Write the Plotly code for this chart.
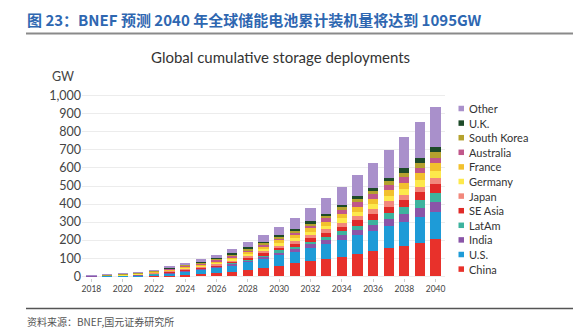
import plotly.graph_objects as go

years = list(range(2018, 2041))

china     = [0.2, 0.3, 0.5, 1, 2, 5, 9, 13, 18, 26, 35, 45, 57, 72, 85, 98, 109, 124, 139, 154, 169, 185, 204]
us        = [0.5, 1, 2, 3, 6, 11, 17, 22, 28, 36, 45, 52, 63, 62, 72, 80, 91, 104, 111, 124, 133, 145, 153]
india     = [0.5, 1, 1.5, 3, 4, 5, 5, 5, 6, 7, 9, 11, 13, 16, 19, 22, 26, 28, 33, 39, 42, 50, 52]
latam     = [0.1, 0.2, 0.3, 0.5, 1, 1, 2, 3, 4, 5, 6, 8, 10, 12, 15, 18, 24, 25, 30, 31, 37, 42, 50]
seasia    = [0.1, 0.2, 0.3, 0.5, 1, 2, 3, 4, 5, 6, 8, 10, 12, 15, 18, 23, 24, 28, 31, 37, 39, 43, 50]
japan     = [0.6, 1, 2, 3, 4, 5, 6, 7, 8, 9, 11, 13, 15, 17, 19, 20, 22, 22, 28, 32, 30, 31, 37]
germany   = [0.4, 0.8, 1.5, 2, 3, 4, 5, 6, 7, 8, 10, 12, 14, 16, 18, 19, 24, 26, 26, 27, 31, 37, 37]
france    = [0.4, 0.8, 1.5, 2, 3, 4, 5, 6, 7, 9, 11, 13, 15, 17, 19, 22, 23, 26, 30, 34, 37, 37, 43]
australia = [0.3, 0.6, 1, 1.5, 2, 3, 5, 6, 7, 8, 9, 10, 12, 14, 15, 18, 24, 26, 26, 28, 32, 32, 31]
skorea    = [0.8, 1.6, 2.5, 3.5, 4, 5, 6, 6, 7, 8, 9, 10, 11, 12, 13, 15, 14, 19, 20, 22, 24, 28, 33]
uk        = [0.2, 0.3, 0.4, 1, 1, 2, 3, 4, 5, 6, 7, 8, 9, 10, 11, 11, 13, 16, 17, 18, 24, 27, 28]
other     = [0.2, 0.3, 0.5, 1, 2, 5, 8, 11, 15, 22, 29, 36, 43, 61, 72, 89, 102, 117, 139, 154, 176, 197, 222]

series = [
    ("China", china, "#E8312B"),
    ("U.S.", us, "#1E9BD7"),
    ("India", india, "#8A55A8"),
    ("LatAm", latam, "#3DB39E"),
    ("SE Asia", seasia, "#E02A28"),
    ("Japan", japan, "#F2887C"),
    ("Germany", germany, "#FDE94C"),
    ("France", france, "#F2C12E"),
    ("Australia", australia, "#C0578A"),
    ("South Korea", skorea, "#B5A22E"),
    ("U.K.", uk, "#1D4A28"),
    ("Other", other, "#A990CB"),
]

W, H = 588, 331
ML, MR, MT, MB = 82, 143, 94, 53
PW, PH = W - ML - MR, H - MT - MB

def px(x):
    return (x - ML) / PW

def py(y):
    return (H - MB - y) / PH

fig = go.Figure()
for name, vals, col in series:
    fig.add_trace(go.Bar(x=years, y=vals, name=name, marker_color=col,
                         marker_line_width=0, width=0.66, showlegend=False))

font_main = "Lato, 'Open Sans', sans-serif"

fig.update_layout(
    width=W, height=H,
    margin=dict(l=ML, r=MR, t=MT, b=MB, pad=0),
    barmode="stack",
    paper_bgcolor="white", plot_bgcolor="white",
    font=dict(family=font_main, color="#333333"),
    showlegend=False,
    xaxis=dict(range=[2017.4, 2040.6], tickmode="array", tickvals=list(range(2018, 2041, 2)),
               ticktext=[str(y) for y in range(2018, 2041, 2)],
               tickfont=dict(size=8.5, color="#444444"), showgrid=False,
               ticks="outside", ticklen=3, tickcolor="#cccccc", showline=False, zeroline=False),
    yaxis=dict(range=[-10, 1010], tickvals=list(range(0, 1001, 100)), tickformat=",",
               tickfont=dict(size=12.5, color="#444444"), showgrid=True, gridcolor="#ececec",
               gridwidth=1, zeroline=False, showline=False, ticks=""),
)

annotations = [
    dict(text="<b>图 23：BNEF 预测 2040 年全球储能电池累计装机量将达到 1095GW</b>",
         x=px(25), y=py(19), xanchor="left", yanchor="middle",
         font=dict(family="'Noto Sans CJK SC', sans-serif", size=15, color="#2E67B1"),
         showarrow=False),
    dict(text="Global cumulative storage deployments", x=px(280), y=py(57),
         xanchor="center", yanchor="middle", font=dict(family=font_main, size=15, color="#333333"),
         showarrow=False),
    dict(text="GW", x=px(76), y=py(77), xanchor="right", yanchor="middle",
         font=dict(family=font_main, size=12.5, color="#444444"), showarrow=False),
    dict(text="资料来源：BNEF,国元证券研究所", x=px(25), y=py(321), xanchor="left", yanchor="middle",
         font=dict(family="'Noto Sans CJK SC', sans-serif", size=10, color="#555555"),
         showarrow=False),
]

shapes = [
    dict(type="line", xref="paper", yref="paper", x0=px(26), x1=px(573), y0=py(33.5), y1=py(33.5),
         line=dict(color="#8a8a8a", width=2)),
    dict(type="line", xref="paper", yref="paper", x0=px(26), x1=px(573), y0=py(308.5), y1=py(308.5),
         line=dict(color="#555555", width=1.3)),
]

# legend (compact, listed top to bottom: Other ... China)
leg_top, leg_step = 108.5, 14.6
for i, (name, vals, col) in enumerate(reversed(series)):
    yc = leg_top + i * leg_step
    shapes.append(dict(type="rect", xref="paper", yref="paper",
                       x0=px(458.5), x1=px(464), y0=py(yc + 2.75), y1=py(yc - 2.75),
                       fillcolor=col, line=dict(width=0)))
    annotations.append(dict(text=name, x=px(466.5), y=py(yc), xanchor="left", yanchor="middle",
                            font=dict(family=font_main, size=11, color="#333333"), showarrow=False))

for a in annotations:
    a["xref"] = "paper"
    a["yref"] = "paper"
fig.update_layout(annotations=annotations, shapes=shapes)

fig.write_html("out.html")
